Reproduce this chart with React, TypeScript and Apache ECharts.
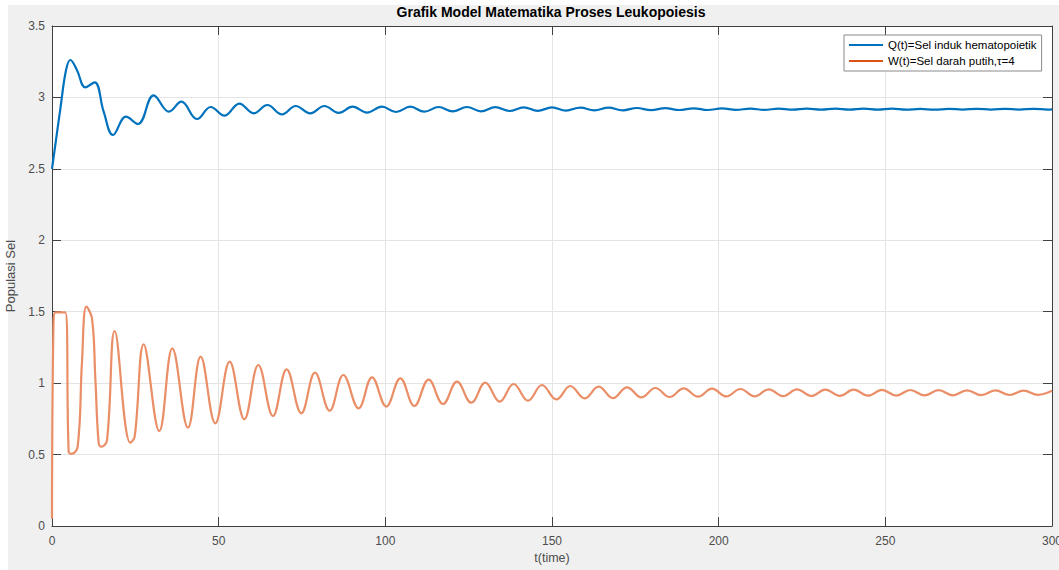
import React, { useEffect, useRef } from "react";
import * as echarts from "echarts";

// ---- Data ----
const xTicks = [0, 50, 100, 150, 200, 250, 300];
const yTicks = [0, 0.5, 1, 1.5, 2, 2.5, 3, 3.5];

const qName = "Q(t)=Sel induk hematopoietik";
const wName = "W(t)=Sel darah putih,\u03c4=4";

const qTime = [0, 2.5, 4.2, 5.5, 7.5, 10, 12.8, 15.5, 18.3, 22.2, 25.8, 30.5, 35.1, 38.8, 43.5, 47.6, 51.7, 56.2, 60.5, 64.6, 69, 73.1, 77.5, 81.7, 86, 90.2, 94.5, 99, 103.2, 107.5, 111.7, 116, 120.2, 124.5, 128.7, 133, 137.2, 141.5, 145.7, 150, 154.2, 158.5, 162.7, 167, 171.2, 175.5, 179.7, 184, 188.2, 192.5, 196.7, 201, 205.2, 209.5, 213.7, 218, 222.2, 226.5, 230.7, 235, 239.2, 243.5, 247.7, 252, 256.2, 260.5, 264.7, 269, 273.2, 277.5, 281.7, 286, 290.2, 294.5, 298.7, 300];
const qValue = [2.5, 2.92, 3.19, 3.262, 3.19, 3.071, 3.106, 2.9, 2.737, 2.865, 2.814, 3.015, 2.9, 2.97, 2.849, 2.933, 2.872, 2.957, 2.889, 2.947, 2.882, 2.94, 2.889, 2.94, 2.892, 2.935, 2.894, 2.935, 2.898, 2.935, 2.9, 2.933, 2.902, 2.933, 2.903, 2.932, 2.905, 2.931, 2.906, 2.93, 2.908, 2.929, 2.909, 2.928, 2.91, 2.926, 2.911, 2.925, 2.912, 2.924, 2.912, 2.923, 2.913, 2.922, 2.913, 2.922, 2.914, 2.921, 2.914, 2.921, 2.914, 2.921, 2.914, 2.921, 2.914, 2.92, 2.914, 2.92, 2.915, 2.92, 2.915, 2.92, 2.915, 2.92, 2.915, 2.917];

const wTime = [0, 0.4, 1.0, 4.0, 5.0, 5.8, 7.7, 9.0, 10.3, 12.0, 13.0, 14.0, 14.8, 16.5, 18.8, 23.5, 24.8, 27.5, 32.2, 36.1, 40.8, 44.6, 49, 53.3, 57.7, 61.9, 66.3, 70.4, 74.8, 78.9, 83.3, 87.4, 92, 96, 100.3, 104.5, 108.7, 113, 117.3, 121.5, 125.8, 130, 134.3, 138.5, 142.8, 147, 151.3, 155.5, 159.8, 164, 168.3, 172.5, 176.8, 181, 185.3, 189.5, 193.8, 198, 202.3, 206.5, 210.8, 215, 219.3, 223.5, 227.8, 232, 236.3, 240.5, 244.8, 249, 253.3, 257.5, 261.8, 266, 270.3, 274.5, 278.8, 283, 287.3, 291.5, 295.8, 300];
const wValue = [0.05, 1.35, 1.496, 1.496, 0.52, 0.505, 0.555, 1.15, 1.535, 1.454, 1.034, 0.58, 0.555, 0.6, 1.365, 0.583, 0.625, 1.272, 0.665, 1.244, 0.688, 1.185, 0.719, 1.15, 0.747, 1.127, 0.77, 1.097, 0.789, 1.073, 0.807, 1.057, 0.824, 1.041, 0.836, 1.034, 0.84, 1.025, 0.854, 1.01, 0.863, 1.003, 0.87, 0.994, 0.877, 0.987, 0.886, 0.98, 0.893, 0.975, 0.895, 0.971, 0.9, 0.966, 0.903, 0.963, 0.905, 0.961, 0.907, 0.959, 0.908, 0.957, 0.909, 0.956, 0.91, 0.955, 0.911, 0.954, 0.912, 0.953, 0.913, 0.952, 0.914, 0.951, 0.915, 0.95, 0.916, 0.949, 0.917, 0.948, 0.918, 0.946];

const FONT = "'Liberation Sans', Arial, Helvetica, sans-serif";
const AXIS_COLOR = "#404040";
const LABEL_COLOR = "#4d4d4d";
const GRID_COLOR = "#e4e4e4";

export default function App() {
  const ref = useRef<HTMLDivElement>(null);

  useEffect(() => {
    if (!ref.current) return;
    const chart = echarts.init(ref.current, null, { renderer: "svg" });
    const qData = qTime.map((t, i) => [t, qValue[i]]);
    const wData = wTime.map((t, i) => [t, wValue[i]]);

    const xMin = xTicks[0];
    const xMax = xTicks[xTicks.length - 1];
    const xInt = xTicks[1] - xTicks[0];
    const yMin = yTicks[0];
    const yMax = yTicks[yTicks.length - 1];
    const yInt = yTicks[1] - yTicks[0];

    const tick = { show: true, inside: true, length: 9, lineStyle: { color: AXIS_COLOR, width: 1 } };
    const line = { show: true, onZero: false, lineStyle: { color: AXIS_COLOR, width: 1 } };

    chart.setOption({
      animation: false,
      textStyle: { fontFamily: FONT },
      grid: {
        left: 52,
        right: 7,
        top: 26,
        bottom: 44,
        show: true,
        backgroundColor: "#ffffff",
        borderWidth: 0,
        containLabel: false,
        outerBoundsMode: "none",
      },
      graphic: [
        {
          type: "text",
          x: 551,
          y: 12,
          style: {
            text: "Grafik Model Matematika Proses Leukopoiesis",
            fill: "#000",
            font: `bold 14px ${FONT}`,
            textAlign: "center",
            textVerticalAlign: "middle",
          },
        },
      ],
      legend: {
        orient: "vertical",
        left: 844,
        top: 35,
        backgroundColor: "#ffffff",
        borderColor: "#8a8a8a",
        borderWidth: 1,
        padding: [3, 5, 3, 5],
        itemGap: 2,
        itemWidth: 34,
        itemHeight: 2,
        icon: "rect",
        textStyle: { fontSize: 11.5, color: "#000", fontFamily: FONT, lineHeight: 14 },
        data: [
          { name: qName, itemStyle: { color: "#0072BD" } },
          { name: wName, itemStyle: { color: "#D95319" } },
        ],
      },
      xAxis: [
        {
          type: "value",
          min: xMin,
          max: xMax,
          interval: xInt,
          position: "bottom",
          axisLine: line,
          axisTick: tick,
          axisLabel: { color: LABEL_COLOR, fontSize: 12, margin: 9 },
          splitLine: { show: true, lineStyle: { color: GRID_COLOR, width: 1 } },
          name: "t(time)",
          nameLocation: "middle",
          nameGap: 24,
          nameTextStyle: { color: LABEL_COLOR, fontSize: 12.5 },
        },
        {
          type: "value",
          min: xMin,
          max: xMax,
          interval: xInt,
          position: "top",
          axisLine: line,
          axisTick: tick,
          axisLabel: { show: false },
          splitLine: { show: false },
        },
      ],
      yAxis: [
        {
          type: "value",
          min: yMin,
          max: yMax,
          interval: yInt,
          position: "left",
          axisLine: line,
          axisTick: tick,
          axisLabel: { color: LABEL_COLOR, fontSize: 12, margin: 7 },
          splitLine: { show: true, lineStyle: { color: GRID_COLOR, width: 1 } },
          name: "Populasi Sel",
          nameLocation: "middle",
          nameGap: 23,
          nameTextStyle: { color: LABEL_COLOR, fontSize: 13 },
        },
        {
          type: "value",
          min: yMin,
          max: yMax,
          interval: yInt,
          position: "right",
          axisLine: line,
          axisTick: tick,
          axisLabel: { show: false },
          splitLine: { show: false },
        },
      ],
      series: [
        {
          name: qName,
          type: "line",
          data: qData,
          smooth: 0.4,
          showSymbol: false,
          symbol: "none",
          lineStyle: { color: "#0072BD", width: 2.2 },
          itemStyle: { color: "#0072BD" },
          z: 3,
        },
        {
          name: wName,
          type: "line",
          data: wData,
          smooth: 0.4,
          showSymbol: false,
          symbol: "none",
          lineStyle: { color: "#EA8E67", width: 2.2 },
          itemStyle: { color: "#D95319" },
          z: 2,
        },
      ],
    });
    return () => chart.dispose();
  }, []);

  return (
    <div style={{ position: "absolute", left: 0, top: 0, width: 1059, height: 570, background: "#ffffff", overflow: "hidden" }}>
      <div style={{ position: "absolute", left: 8, top: 5, width: 1051, height: 565, background: "#f0f0f0" }} />
      <div ref={ref} style={{ position: "absolute", left: 0, top: 0, width: 1059, height: 570 }} />
    </div>
  );
}
